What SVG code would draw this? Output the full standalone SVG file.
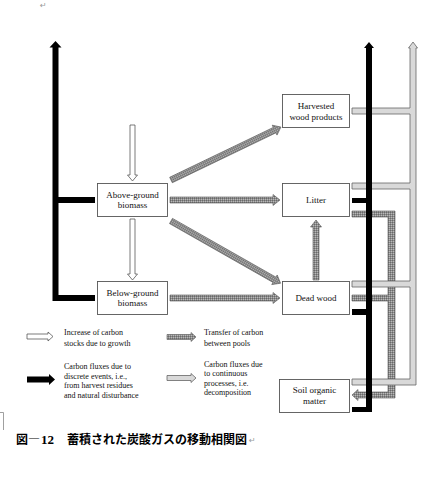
<svg xmlns="http://www.w3.org/2000/svg" width="431" height="478" viewBox="0 0 431 478">
<style>
.box{fill:#fff;stroke:#555;stroke-width:0.9}
.lbl{font-family:"Liberation Serif","Times New Roman",serif;font-size:9px;fill:#111;text-anchor:middle}
.leg{font-family:"Liberation Serif","Times New Roman",serif;font-size:8px;fill:#111}
.blk{fill:#000}
.wht{fill:#fff;stroke:#444;stroke-width:0.7}
.lgt{fill:#d9d9d9;stroke:#666;stroke-width:0.8}
.chk{fill:url(#checker);stroke:#555;stroke-width:0.6}
.mark{font-family:"DejaVu Sans",sans-serif;font-size:8px;fill:#999}
</style>
<defs>
<pattern id="checker" width="2" height="2" patternUnits="userSpaceOnUse">
<rect width="2" height="2" fill="#8c8c8c"/>
<rect width="1" height="1" fill="#6a6a6a"/>
<rect x="1" y="1" width="1" height="1" fill="#b8b8b8"/>
</pattern>
</defs>
<rect width="431" height="478" fill="#fff"/>

<text class="mark" x="40" y="8">↵</text>

<g id="connectors">
<path class="blk" d="M55.5,41 L61.5,47.5 L58.5,47.5 L58.5,197 L95,197 L95,203 L58.5,203 L58.5,295 L95,295 L95,301 L52.5,301 L52.5,47.5 L49.5,47.5 Z"/>
<path class="wht" d="M130,125 L135,125 L135,175 L137.5,175 L132.5,181 L127.5,175 L130,175 Z"/>
<path class="wht" d="M130,219 L135,219 L135,274 L137.5,274 L132.5,280 L127.5,274 L130,274 Z"/>
<path class="chk" transform="translate(171,180) rotate(-25.7)" d="M0,-3 L115,-3 L115,-5.5 L122,0 L115,5.5 L115,3 L0,3 Z"/>
<path class="chk" d="M170,197 L273,197 L273,194.5 L280,200 L273,205.5 L273,203 L170,203 Z"/>
<path class="chk" transform="translate(171,221) rotate(29.6)" d="M0,-3 L119,-3 L119,-5.5 L126,0 L119,5.5 L119,3 L0,3 Z"/>
<path class="chk" d="M170,295 L273,295 L273,292.5 L280,298 L273,303.5 L273,301 L170,301 Z"/>
<path class="chk" d="M313,280 L313,227 L310.5,227 L316,220 L321.5,227 L319,227 L319,280 Z"/>
<path class="chk" d="M352,211 L395,211 L395,398 L358,398 L358,400.5 L352,395 L358,389.5 L358,392 L388,392 L388,301 L352,301 L352,295 L388,295 L388,217 L352,217 Z"/>
<path class="lgt" d="M413,42 L417.5,48 L416,48 L416,385 L352,385 L352,379 L410,379 L410,287 L352,287 L352,281 L410,281 L410,189 L352,189 L352,183 L410,183 L410,114 L352,114 L352,108 L410,108 L410,48 L408.5,48 Z"/>
<path class="blk" d="M369,42 L374,48 L372,48 L372,412 L352,412 L352,407 L366,407 L366,315 L352,315 L352,309 L366,309 L366,203 L352,203 L352,198 L366,198 L366,48 L364,48 Z"/>
</g>

<g id="node-hwp">
<rect class="box" x="282.5" y="94.5" width="67" height="33"/>
<text class="lbl" x="316" y="109">Harvested</text>
<text class="lbl" x="316" y="120">wood products</text>
</g>
<g id="node-above">
<rect class="box" x="97.5" y="183.5" width="70" height="33"/>
<text class="lbl" x="132.5" y="197.5">Above-ground</text>
<text class="lbl" x="132.5" y="207.5">biomass</text>
</g>
<g id="node-litter">
<rect class="box" x="282.5" y="183.5" width="67" height="33"/>
<text class="lbl" x="316" y="203">Litter</text>
</g>
<g id="node-below">
<rect class="box" x="97.5" y="281.5" width="70" height="33"/>
<text class="lbl" x="132.5" y="296">Below-ground</text>
<text class="lbl" x="132.5" y="306">biomass</text>
</g>
<g id="node-deadwood">
<rect class="box" x="282.5" y="281.5" width="67" height="33"/>
<text class="lbl" x="316" y="301">Dead wood</text>
</g>
<g id="node-soil">
<rect class="box" x="279.5" y="379.5" width="70" height="33"/>
<text class="lbl" x="314.5" y="393">Soil organic</text>
<text class="lbl" x="314.5" y="404">matter</text>
</g>

<g id="legend">
<path class="wht" d="M27,334 L48,334 L48,332 L53,336.5 L48,341 L48,339 L27,339 Z"/>
<text class="leg" x="64" y="335">Increase of carbon</text>
<text class="leg" x="64" y="345.5">stocks due to growth</text>
<path class="blk" d="M27,376.5 L49,376.5 L49,374 L55,379.5 L49,385 L49,382.5 L27,382.5 Z"/>
<text class="leg" x="64" y="369">Carbon fluxes due to</text>
<text class="leg" x="64" y="378.5">discrete events, i.e.,</text>
<text class="leg" x="64" y="388">from harvest residues</text>
<text class="leg" x="64" y="397.5">and natural disturbance</text>
<path class="chk" d="M167,334.5 L191,334.5 L191,332.5 L196,337 L191,341.5 L191,339.5 L167,339.5 Z"/>
<text class="leg" x="204" y="335">Transfer of carbon</text>
<text class="leg" x="204" y="345.5">between pools</text>
<path class="lgt" d="M167,375.5 L191,375.5 L191,373.5 L196,378 L191,382.5 L191,380.5 L167,380.5 Z"/>
<text class="leg" x="204" y="366.5">Carbon fluxes due</text>
<text class="leg" x="204" y="376">to continuous</text>
<text class="leg" x="204" y="385.5">processes, i.e.</text>
<text class="leg" x="204" y="395">decomposition</text>
</g>

<path d="M0,412.5 L3.5,412.5 L3.5,430" fill="none" stroke="#888" stroke-width="0.8"/>
<text x="16" y="444" font-family="'Noto Sans CJK JP',sans-serif" font-size="12" font-weight="bold" fill="#000">図―<tspan x="41" font-family="'Liberation Serif',serif" font-size="13">12</tspan><tspan x="67">蓄積された炭酸ガスの移動相関図</tspan></text>
<text class="mark" x="249" y="443">↵</text>
</svg>
